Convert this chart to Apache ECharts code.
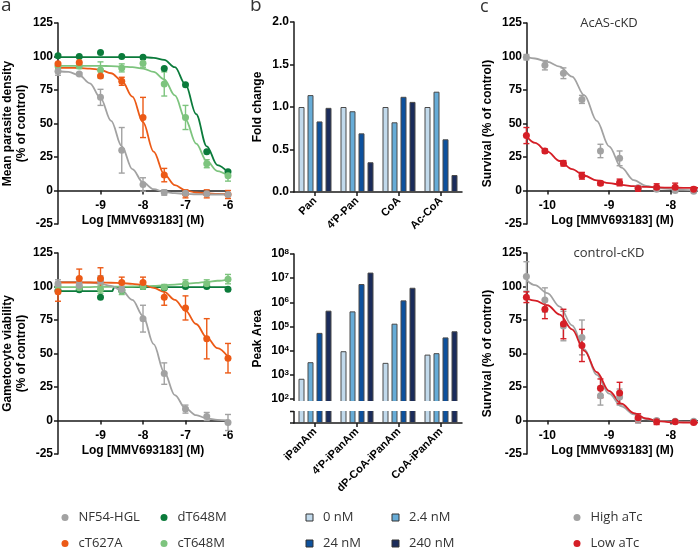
<!DOCTYPE html>
<html><head><meta charset="utf-8">
<script src="https://cdn.jsdelivr.net/npm/echarts@6/dist/echarts.min.js"></script>
<style>html,body{margin:0;padding:0;background:#fff}#c{width:698px;height:549px}</style>
</head><body><div id="c"></div>
<script>
// ---------- panel a data ----------
const aX = [-10, -9.5, -9, -8.5, -8, -7.5, -7, -6.5, -6];
const aTopNF54 = [89, 87, 69.5, 30, 4.5, -1.5, -2, -2.5, -3];
const aTopNF54Err = [3, 1, 6, 17, 5, 2, 1, 1, 1];
const aTopT627A = [94.5, 95.5, 85.5, 81.5, 54.5, 11.5, -2.5, -2.5, -3];
const aTopT627AErr = [0, 0, 0, 3, 15, 5, 3, 3, 3];
const aTopdT648M = [100.5, 100, 103, 100, 99.5, 91, 79, 29, 14];
const aTopcT648M = [93, 93, 90, 91.5, 95, 79.5, 54.5, 20, 11];
const aTopcT648MErr = [2, 2, 6, 3, 3, 9, 9, 3, 4];

const aCurveX = [-10, -9.75, -9.5, -9.25, -9, -8.75, -8.5, -8.25, -8, -7.75, -7.5, -7.25, -7, -6.75, -6.5, -6.25, -6];
const aTopNF54Fit = [89, 88.5, 86, 80, 69, 52, 33, 16, 6, 1, -1, -2, -2.5, -2.8, -3, -3, -3];
const aTopT627AFit = [91.5, 91.5, 91.4, 91, 90, 87.5, 82, 70, 51, 29, 12, 4, 0, -1.5, -2.2, -2.5, -2.7];
const aTopdT648MFit = [99.5, 99.5, 99.5, 99.5, 99.5, 99.5, 99.5, 99.5, 99.5, 99, 97.5, 92, 79, 57, 33, 19, 13.5];
const aTopcT648MFit = [93, 93, 93, 93, 93, 92.8, 92.5, 92, 91, 88.5, 83, 71, 53, 35, 22, 14.5, 11];

const aBotNF54 = [102, 101, 104, 98, 76, 35, 8.5, 3, -1.5];
const aBotNF54Err = [3, 2, 4, 2, 10, 8, 3, 3, 6];
const aBotT627A = [96, 106, 106, 103, 103, 92, 84, 61, 46.5];
const aBotT627AErr = [7, 7, 8, 4, 4, 6, 9, 15, 11];
const aBotdT648M = [97, 97.5, 92, 97, 100, 99, 100, 100, 98];
const aBotcT648M = [100, 99, 98, 97, 100, 99.5, 102, 102, 105.5];
const aBotcT648MErr = [3, 2, 3, 3, 2, 2, 3, 3, 3.5];

const aBotNF54Fit = [103.5, 103.5, 103.3, 103, 102, 100.5, 97, 90, 78, 57, 36, 19, 9, 4, 1.5, 0.5, 0];
const aBotT627AFit = [103, 103, 103, 103, 103, 102.8, 102.5, 102, 101, 99, 96, 90, 82, 72, 62, 54, 47.5];
const aBotcT648MFit = [99.5, 99.5, 99.6, 99.6, 99.7, 99.8, 99.9, 100, 100.2, 100.5, 100.9, 101.4, 102, 102.7, 103.5, 104.3, 105.2];
const aBotdT648MFitX = [-10, -8.72, -8.68, -6];
const aBotdT648MFit = [96.5, 96.5, 99.5, 99.5];

// ---------- panel b data ----------
const bCats = ['Pan', "4'P-Pan", 'CoA', 'Ac-CoA'];
const fc0 = [1.0, 1.0, 1.0, 1.0];
const fc2p4 = [1.14, 0.95, 0.82, 1.18];
const fc24 = [0.83, 0.69, 1.12, 0.62];
const fc240 = [0.99, 0.35, 1.06, 0.20];
const pCats = ['iPanAm', "4'P-iPanAm", 'dP-CoA-iPanAm', 'CoA-iPanAm'];
const pa0 = [680, 9400, 3100, 6800];
const pa2p4 = [3300, 420000, 130000, 7800];
const pa24 = [54000, 5700000, 1200000, 35000];
const pa240 = [450000, 17000000, 4000000, 63000];
const concNames = ['0 nM', '2.4 nM', '24 nM', '240 nM'];

// ---------- panel c data ----------
const cX = [-10.34, -10.04, -9.74, -9.44, -9.14, -8.83, -8.53, -8.23, -7.93, -7.63];
const cTopHigh = [99.5, 93.5, 87.5, 68, 29.5, 24, 2, 1, 0, -0.5];
const cTopHighErr = [2, 3.5, 4, 3, 5, 5.5, 1, 1, 1, 1];
const cTopLow = [41, 29.5, 20.3, 11, 5.5, 6, 1.5, 2.5, 2.5, 1];
const cTopLowErr = [6, 1.5, 2, 2.5, 1.5, 2.5, 2, 2.5, 3, 1.5];
const cBotHigh = [107.5, 90, 70.5, 62, 18.5, 17.5, 1, 0, -0.5, -0.5];
const cBotHighErr = [11, 9, 11, 13, 7, 6, 3, 1, 1, 1];
const cBotLow = [92, 83, 72, 56, 24, 20.5, 2, -1, -1, -1.5];
const cBotLowErr = [4, 7, 11, 12, 7, 8, 3, 2, 1, 1];
const cCurveX = [-10.33, -10.2, -10, -9.8, -9.6, -9.4, -9.2, -9, -8.8, -8.6, -8.4, -8.2, -8, -7.8, -7.56];
const cTopHighFit = [99.5, 98.5, 96, 92.5, 85, 71, 52, 33, 17, 7.7, 3.5, 1.7, 1, 0.5, 0];
const cTopLowFit = [40, 35.5, 29, 22, 16, 11, 7.5, 5.5, 4.2, 3.2, 2.7, 2.3, 2.1, 2, 2];
const cBotHighFit = [104.5, 101, 95, 85, 71, 53, 34, 20, 10.5, 4.5, 1, -0.2, -0.8, -1, -1];
const cBotLowFit = [91, 89.5, 86, 79, 68, 52, 36, 22, 12.5, 5.5, 1.5, -0.5, -1.3, -1.5, -1.6];

const aXTicks = [-9, -8, -7, -6];
const cXTicks = [-10, -9, -8];
const pctMin = -25, pctMax = 125;

// ---------- styles ----------
const C_GRAY = '#a2a2a2', C_ORANGE = '#ec5a16', C_DGREEN = '#0b7b3b', C_LGREEN = '#7dc47e', C_RED = '#d51e26';
const BLUES = ['#c2daec', '#67acd7', '#0d519d', '#1b2c5b'];
const AF = "'Liberation Sans', Arial, sans-serif";
const LF = "'Open Sans', 'Noto Sans', sans-serif";
const AXC = '#1a1a1a';

const axisLine = { show: true, lineStyle: { color: AXC, width: 1.5 } };
const axisTick = { show: true, length: 4, lineStyle: { color: AXC, width: 1.5 } };
const lbl = { color: '#000', fontFamily: AF, fontWeight: 'bold', fontSize: 12 };
const nameStyle = { color: '#000', fontFamily: AF, fontWeight: 'bold', fontSize: 12, lineHeight: 14 };

const gridDefs = [
  { left: 58, top: 23, width: 170, height: 201 },
  { left: 58, top: 253, width: 170, height: 201 },
  { left: 294, top: 22, width: 168, height: 170 },
  { left: 294, top: 254, width: 168, height: 169 },
  { left: 527, top: 23, width: 171, height: 201 },
  { left: 527, top: 253, width: 171, height: 201 }
];
const grids = gridDefs.map(g => Object.assign({ outerBoundsMode: 'none', containLabel: false }, g));

// x axis placed at y = 0 of the percent axis (shift up from grid bottom)
function zeroOffset(gi) {
  return -gridDefs[gi].height * (0 - pctMin) / (pctMax - pctMin);
}
function logX(gi, min, max, ticks) {
  return {
    type: 'value', gridIndex: gi, min, max, position: 'bottom', offset: zeroOffset(gi),
    name: 'Log [MMV693183] (M)', nameLocation: 'middle', nameGap: 23, nameTextStyle: nameStyle,
    axisLine: { show: true, onZero: false, lineStyle: axisLine.lineStyle },
    axisTick: Object.assign({ customValues: ticks }, axisTick),
    axisLabel: Object.assign({ customValues: ticks, margin: 9 }, lbl),
    splitLine: { show: false }
  };
}
function pctY(gi, name, gap) {
  return {
    type: 'value', gridIndex: gi, min: pctMin, max: pctMax, interval: 25,
    name, nameLocation: 'middle', nameRotate: 90, nameGap: gap, nameTextStyle: nameStyle,
    axisLine: { show: true, onZero: false, lineStyle: axisLine.lineStyle },
    axisTick, axisLabel: Object.assign({ margin: 5 }, lbl), splitLine: { show: false }
  };
}
function catX(gi, cats) {
  return {
    type: 'category', gridIndex: gi, data: cats,
    axisLine, axisTick: Object.assign({ alignWithLabel: true }, axisTick),
    axisLabel: Object.assign({ rotate: 45, margin: 7, interval: 0 }, lbl, { fontSize: 11 }),
    splitLine: { show: false }
  };
}

const xAxis = [
  logX(0, -10, -6, aXTicks),
  logX(1, -10, -6, aXTicks),
  catX(2, bCats),
  catX(3, pCats),
  logX(4, -10.33, -7.56, cXTicks),
  logX(5, -10.33, -7.56, cXTicks)
];
const yAxis = [
  pctY(0, 'Mean parasite density\n(% of control)', 23),
  pctY(1, 'Gametocyte viability\n(% of control)', 23),
  {
    type: 'value', gridIndex: 2, min: 0, max: 2, interval: 0.5,
    name: 'Fold change', nameLocation: 'middle', nameRotate: 90, nameGap: 29, nameTextStyle: nameStyle,
    axisLine, axisTick, axisLabel: Object.assign({ margin: 5, formatter: v => v.toFixed(1) }, lbl),
    splitLine: { show: false }
  },
  {
    type: 'log', logBase: 10, gridIndex: 3, min: 10, max: 1e8, splitNumber: 7, startValue: 10,
    name: 'Peak Area', nameLocation: 'middle', nameRotate: 90, nameGap: 29, nameTextStyle: nameStyle,
    axisLine, axisTick,
    axisLabel: {
      margin: 5,
      formatter: v => v <= 10 ? '' : '{a|10}{b|' + Math.round(Math.log10(v)) + '}',
      rich: {
        a: { fontFamily: AF, fontWeight: 'bold', fontSize: 12, color: '#000' },
        b: { fontFamily: AF, fontWeight: 'bold', fontSize: 8, color: '#000', verticalAlign: 'top' }
      }
    },
    splitLine: { show: false }
  },
  pctY(4, 'Survival (% of control)', 32),
  pctY(5, 'Survival (% of control)', 32)
];

function errSeries(name, gi, xs, ys, es, color) {
  const data = [];
  xs.forEach((x, i) => { if (es[i] > 0) data.push([x, ys[i] - es[i], ys[i] + es[i]]); });
  return {
    type: 'custom', name, xAxisIndex: gi, yAxisIndex: gi, z: 3, clip: false, silent: true,
    data, encode: { x: 0, y: [1, 2] },
    renderItem(params, api) {
      const lo = api.coord([api.value(0), api.value(1)]);
      const hi = api.coord([api.value(0), api.value(2)]);
      const w = 3, st = { stroke: color, lineWidth: 1.4 };
      return {
        type: 'group', children: [
          { type: 'line', shape: { x1: lo[0], y1: lo[1], x2: hi[0], y2: hi[1] }, style: st },
          { type: 'line', shape: { x1: lo[0] - w, y1: lo[1], x2: lo[0] + w, y2: lo[1] }, style: st },
          { type: 'line', shape: { x1: hi[0] - w, y1: hi[1], x2: hi[0] + w, y2: hi[1] }, style: st }
        ]
      };
    }
  };
}
const scatterList = [], otherList = [];
function addGroup(gi, name, color, xs, ys, es, cx, cy, smooth) {
  scatterList.push({
    type: 'scatter', name, xAxisIndex: gi, yAxisIndex: gi, clip: false, z: 4,
    data: xs.map((x, i) => [x, ys[i]]), symbol: 'circle', symbolSize: 7, itemStyle: { color, opacity: 1 }
  });
  if (es) otherList.push(errSeries(name, gi, xs, ys, es, color));
  otherList.push({
    type: 'line', name, xAxisIndex: gi, yAxisIndex: gi, z: 2, symbol: 'none', showSymbol: false,
    smooth: smooth === false ? false : 0.35, smoothMonotone: 'x',
    data: cx.map((x, i) => [x, cy[i]]), lineStyle: { color, width: 1.8 }
  });
}
// panel a top
addGroup(0, 'dT648M', C_DGREEN, aX, aTopdT648M, null, aCurveX, aTopdT648MFit);
addGroup(0, 'cT648M', C_LGREEN, aX, aTopcT648M, aTopcT648MErr, aCurveX, aTopcT648MFit);
addGroup(0, 'cT627A', C_ORANGE, aX, aTopT627A, aTopT627AErr, aCurveX, aTopT627AFit);
addGroup(0, 'NF54-HGL', C_GRAY, aX, aTopNF54, aTopNF54Err, aCurveX, aTopNF54Fit);
// panel a bottom
addGroup(1, 'dT648M', C_DGREEN, aX, aBotdT648M, null, aBotdT648MFitX, aBotdT648MFit, false);
addGroup(1, 'cT648M', C_LGREEN, aX, aBotcT648M, aBotcT648MErr, aCurveX, aBotcT648MFit);
addGroup(1, 'NF54-HGL', C_GRAY, aX, aBotNF54, aBotNF54Err, aCurveX, aBotNF54Fit);
addGroup(1, 'cT627A', C_ORANGE, aX, aBotT627A, aBotT627AErr, aCurveX, aBotT627AFit);
// panel c
addGroup(4, 'High aTc', C_GRAY, cX, cTopHigh, cTopHighErr, cCurveX, cTopHighFit);
addGroup(4, 'Low aTc', C_RED, cX, cTopLow, cTopLowErr, cCurveX, cTopLowFit);
addGroup(5, 'High aTc', C_GRAY, cX, cBotHigh, cBotHighErr, cCurveX, cBotHighFit);
addGroup(5, 'Low aTc', C_RED, cX, cBotLow, cBotLowErr, cCurveX, cBotLowFit);

// panel b bars
const barList = [];
[fc0, fc2p4, fc24, fc240].forEach((arr, k) => barList.push({
  type: 'bar', name: concNames[k], xAxisIndex: 2, yAxisIndex: 2, data: arr,
  barWidth: 6, barGap: '50%', itemStyle: { color: BLUES[k], borderColor: '#4a4a4a', borderWidth: 1, opacity: 1 }
}));
[pa0, pa2p4, pa24, pa240].forEach((arr, k) => barList.push({
  type: 'bar', name: concNames[k], xAxisIndex: 3, yAxisIndex: 3, data: arr, clip: true,
  barWidth: 6, barGap: '50%', itemStyle: { color: BLUES[k], borderColor: '#4a4a4a', borderWidth: 1, opacity: 1 }
}));

// legends
const legendDefs = [
  ['NF54-HGL', 'circle', C_GRAY, 61.5, 511],
  ['dT648M', 'circle', C_DGREEN, 160.5, 511],
  ['cT627A', 'circle', C_ORANGE, 61.5, 537],
  ['cT648M', 'circle', C_LGREEN, 160.5, 537],
  ['0 nM', 'rect', BLUES[0], 305.5, 511],
  ['2.4 nM', 'rect', BLUES[1], 391.5, 511],
  ['24 nM', 'rect', BLUES[2], 305.5, 537],
  ['240 nM', 'rect', BLUES[3], 391.5, 537],
  ['High aTc', 'circle', C_GRAY, 573.5, 511],
  ['Low aTc', 'circle', C_RED, 573.5, 537]
];
const legend = legendDefs.map(([name, icon, color, left, top]) => ({
  left, top, padding: 0, itemWidth: 7, itemHeight: 7, selectedMode: false,
  data: [{ name, icon, itemStyle: { color, opacity: 1, borderColor: icon === 'rect' ? '#333' : color, borderWidth: icon === 'rect' ? 1 : 0 } }],
  textStyle: { fontFamily: LF, fontSize: 13, color: '#333', padding: [0, 0, 0, 5] }
}));

function txt(text, x, y, size, align) {
  return { type: 'text', x, y, z: 50, style: { text, fill: '#333', font: size + "px 'Open Sans', sans-serif", align: align || 'left', verticalAlign: 'top' } };
}
const graphic = [
  txt('a', 1, -4, 19),
  txt('b', 250, -4, 19),
  txt('c', 480, -2, 18),
  txt('AcAS-cKD', 609, 17, 13, 'center'),
  txt('control-cKD', 609, 247, 13, 'center'),
  { type: 'rect', z: 100, shape: { x: 290, y: 401, width: 176, height: 10 }, style: { fill: '#fff' } },
  { type: 'line', z: 101, shape: { x1: 290, y1: 411.5, x2: 294, y2: 411.5 }, style: { stroke: AXC, lineWidth: 1.5 } }
];

const chart = echarts.init(document.getElementById('c'), null, { renderer: 'canvas' });
chart.setOption({
  animation: false,
  backgroundColor: '#fff',
  grid: grids, xAxis, yAxis, legend, graphic,
  series: scatterList.concat(barList, otherList)
});
</script></body></html>
